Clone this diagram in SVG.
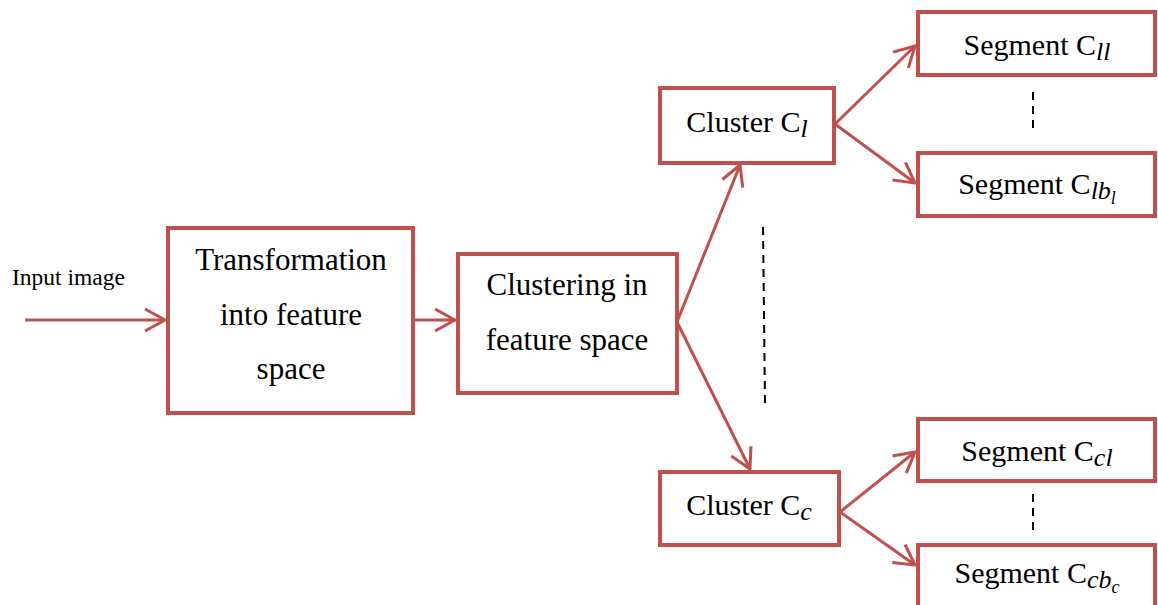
<svg xmlns="http://www.w3.org/2000/svg" width="1158" height="605" viewBox="0 0 1158 605">
  <style>
    .box { fill: #FFFFFF; stroke: #C0504D; stroke-width: 4; }
    .link { fill: none; stroke: #C0504D; stroke-width: 3; marker-end: url(#open-arrow); }
    .dots { fill: none; stroke: #000000; stroke-width: 2; stroke-dasharray: 8 6; }
    .label { font-family: "Liberation Serif", "Times New Roman", serif; fill: #000000; text-anchor: middle; }
    .big { font-size: 31px; }
    .mid { font-size: 30px; }
    .sub { font-style: italic; font-size: 26px; }
    .subsub { font-style: italic; font-size: 18px; }
  </style>
  <defs>
    <marker id="open-arrow" markerUnits="userSpaceOnUse" viewBox="-25 -15 30 30" markerWidth="30" markerHeight="30" refX="0" refY="0" orient="auto" overflow="visible">
      <path d="M-20,-11 L0,0 L-20,11" fill="none" stroke="#C0504D" stroke-width="3" stroke-linejoin="miter"/>
    </marker>
  </defs>
  <rect width="1158" height="605" fill="#FFFFFF"/>

  <!-- connectors -->
  <g id="connectors">
    <line class="link" x1="25" y1="320" x2="165" y2="320"/>
    <line class="link" x1="413" y1="320" x2="455" y2="320"/>
    <line class="link" x1="677" y1="322" x2="740" y2="165"/>
    <line class="link" x1="677" y1="322" x2="750" y2="469"/>
    <line class="link" x1="835" y1="124" x2="915" y2="46"/>
    <line class="link" x1="835" y1="124" x2="915" y2="183"/>
    <line class="link" x1="840" y1="512" x2="915" y2="452"/>
    <line class="link" x1="840" y1="512" x2="915" y2="565"/>
    <line class="dots" x1="763" y1="227" x2="765" y2="403"/>
    <line class="dots" x1="1033" y1="92" x2="1033" y2="129"/>
    <line class="dots" x1="1033" y1="494" x2="1033" y2="531"/>
  </g>

  <g id="input-label">
    <text x="12" y="285" font-family="Liberation Serif, Times New Roman, serif" font-size="23.5" fill="#000000">Input image</text>
  </g>

  <g id="transform">
    <rect class="box" x="168" y="228" width="245" height="185"/>
    <text class="label big" x="291" y="270">Transformation</text>
    <text class="label big" x="291" y="325">into feature</text>
    <text class="label big" x="291" y="379">space</text>
  </g>

  <g id="clustering">
    <rect class="box" x="458" y="254" width="219" height="139"/>
    <text class="label big" x="567" y="295">Clustering in</text>
    <text class="label big" x="567" y="350">feature space</text>
  </g>

  <g id="cluster-l">
    <rect class="box" x="660" y="88" width="174" height="75"/>
    <text class="label mid" x="747" y="132">Cluster C<tspan class="sub" dy="5">l</tspan></text>
  </g>

  <g id="cluster-c">
    <rect class="box" x="660" y="472" width="179" height="73"/>
    <text class="label mid" x="749" y="515">Cluster C<tspan class="sub" dy="5">c</tspan></text>
  </g>

  <g id="segment-ll">
    <rect class="box" x="918" y="12" width="237" height="63"/>
    <text class="label mid" x="1037" y="55">Segment C<tspan class="sub" dy="5">ll</tspan></text>
  </g>

  <g id="segment-lbl">
    <rect class="box" x="918" y="153" width="237" height="63"/>
    <text class="label mid" x="1037" y="194">Segment C<tspan class="sub" dy="5">lb</tspan><tspan class="subsub" dy="5">l</tspan></text>
  </g>

  <g id="segment-cl">
    <rect class="box" x="918" y="419" width="237" height="62"/>
    <text class="label mid" x="1037" y="461">Segment C<tspan class="sub" dy="5">cl</tspan></text>
  </g>

  <g id="segment-cbc">
    <rect class="box" x="918" y="545" width="237" height="70"/>
    <text class="label mid" x="1037" y="583">Segment C<tspan class="sub" dy="5">cb</tspan><tspan class="subsub" dy="5">c</tspan></text>
  </g>
</svg>
